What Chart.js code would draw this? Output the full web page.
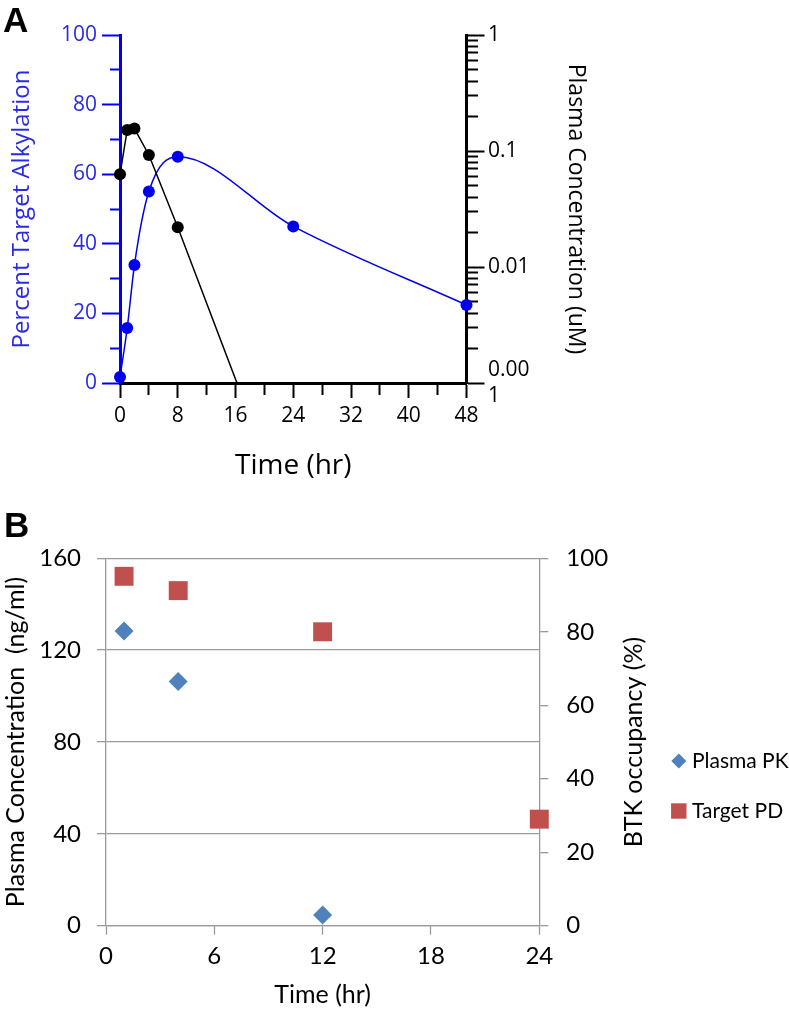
<!DOCTYPE html>
<html><head><meta charset="utf-8">
<script src="https://cdn.jsdelivr.net/npm/chart.js@4/dist/chart.umd.min.js"></script>
<style>
html,body{margin:0;padding:0;background:#fff;}
#wrap{position:relative;width:789px;height:1010px;overflow:hidden;}
canvas{position:absolute;left:0;}
#cA{top:0;} #cB{top:500px;}
</style></head><body>
<div id="wrap"><canvas id="cA" width="789" height="490"></canvas><canvas id="cB" width="789" height="510"></canvas></div>
<script>
// ---------- Panel A data ----------
const alkTimes = [0, 1, 2, 4, 8, 24, 48];
const alkPercent = [1.7, 15.8, 33.9, 55.0, 65.0, 45.0, 22.4];
const concTimes = [0, 1, 2, 4, 8, 24];
const concUM = [0.063, 0.152, 0.156, 0.0924, 0.0220, 0.000053];
const aLeftLabelled = [0, 20, 40, 60, 80, 100];
const aTimeLabelled = [0, 8, 16, 24, 32, 40, 48];
const aRightTickValues = [1, 0.1, 0.01, 0.001];
const aRightTickLabels = ['1', '0.1', '0.01', ['0.00', '1']];

// ---------- Panel B data ----------
const pkTimes = [1, 4, 12];
const pkConc = [128.3, 106.3, 4.7];
const pdTimes = [1, 4, 12, 24];
const pdOccupancy = [95.1, 91.2, 80.0, 29.0];

const BLUE = '#0000ee', BLUE_TXT = '#2a2ae6', GRAY = '#9a9a9a';
const FA = 'Open Sans', FB = 'Lato';
const relEq = (a, b) => Math.abs(a / b - 1) < 1e-6;

const panelLetter = (letter, x, y) => ({
  id: 'letter' + letter,
  afterDraw(chart) {
    const c = chart.ctx; c.save();
    c.font = 'bold 35px "Liberation Sans", Arial, sans-serif';
    c.fillStyle = '#000'; c.textBaseline = 'alphabetic'; c.textAlign = 'left';
    c.fillText(letter, x, y); c.restore();
  }
});

// ---------- Chart A ----------
new Chart(document.getElementById('cA'), {
  type: 'line',
  data: {
    datasets: [
      {
        label: 'Percent Target Alkylation',
        data: alkTimes.map((t, i) => ({x: t, y: alkPercent[i]})),
        yAxisID: 'y', borderColor: BLUE, backgroundColor: BLUE,
        pointBackgroundColor: BLUE, pointBorderWidth: 0, pointRadius: 6,
        borderWidth: 1.5, cubicInterpolationMode: 'monotone', clip: false, order: 1
      },
      {
        label: 'Plasma Concentration',
        data: concTimes.map((t, i) => ({x: t, y: concUM[i]})),
        yAxisID: 'y2', borderColor: '#000', backgroundColor: '#000',
        pointBackgroundColor: '#000', pointBorderWidth: 0, pointRadius: 6,
        borderWidth: 1.5, tension: 0, clip: {left: 10, top: 10, right: 10, bottom: 0}, order: 0
      }
    ]
  },
  options: {
    responsive: false, animation: false, devicePixelRatio: 1,
    layout: {padding: {left: 7.6, top: 35, right: 199.4, bottom: 0}},
    plugins: {legend: {display: false}, tooltip: {enabled: false}},
    scales: {
      x: {
        type: 'linear', position: 'bottom', min: 0, max: 48,
        ticks: {stepSize: 4, autoSkip: false, maxRotation: 0, padding: 5, color: '#000',
          font: {family: FA, size: 21},
          callback: v => aTimeLabelled.includes(v) ? String(v) : ''},
        grid: {drawOnChartArea: false, drawTicks: true, tickLength: 15, color: '#000', tickWidth: 2,
          tickBorderDash: c => (c.tick && !aTimeLabelled.includes(c.tick.value)) ? [10, 100] : []},
        border: {display: true, color: '#000', width: 3},
        title: {display: true, text: 'Time (hr)', color: '#000', font: {family: FA, size: 28}, padding: {top: 0, bottom: 7}},
        afterFit: s => { s.height = 107; }
      },
      y: {
        type: 'linear', position: 'left', min: 0, max: 100,
        ticks: {stepSize: 10, autoSkip: false, padding: 5, color: BLUE_TXT,
          font: {family: FA, size: 21},
          callback: v => aLeftLabelled.includes(v) ? String(v) : ''},
        grid: {drawOnChartArea: false, tickLength: 18, color: BLUE, tickWidth: 2,
          tickBorderDash: c => (c.tick && !aLeftLabelled.includes(c.tick.value)) ? [0, 8, 10, 100] : []},
        border: {display: true, color: BLUE, width: 3},
        title: {display: true, text: 'Percent Target Alkylation', color: BLUE_TXT, font: {family: FA, size: 24}, padding: 0},
        afterFit: s => { s.width = 112.4; }
      },
      y2: {
        type: 'logarithmic', position: 'right', min: 0.001, max: 1,
        afterBuildTicks: s => {
          s.ticks = s.ticks.filter(t => {
            const e = Math.floor(Math.log10(t.value) + 1e-9);
            const m = t.value / Math.pow(10, e);
            return Math.abs(m - Math.round(m)) < 1e-6;
          });
        },
        ticks: {autoSkip: false, padding: 3.5, color: '#000', font: {family: FA, size: 21},
          callback: v => {
            const i = aRightTickValues.findIndex(t => relEq(v, t));
            return i >= 0 ? aRightTickLabels[i] : '';
          }},
        grid: {drawOnChartArea: false, tickLength: 18, color: '#000', tickWidth: 2,
          tickBorderDash: c => (c.tick && !aRightTickValues.some(t => relEq(c.tick.value, t))) ? [10, 100] : []},
        border: {display: true, color: '#000', width: 3},
        title: {display: true, text: 'Plasma Concentration (uM)', color: '#000', font: {family: FA, size: 23}, padding: 0},
        afterFit: s => { s.width = 123.1; }
      }
    }
  },
  plugins: [panelLetter('A', 3, 32)]
});

// ---------- Chart B ----------
const bExtras = {
  id: 'bExtras',
  afterDraw(chart) {
    const c = chart.ctx, ca = chart.chartArea, s = chart.scales.yR;
    c.save();
    // right axis title (reads bottom to top)
    c.translate(s.right - 15, (ca.top + ca.bottom) / 2);
    c.rotate(-Math.PI / 2);
    c.font = '25px ' + FB; c.fillStyle = '#000';
    c.textAlign = 'center'; c.textBaseline = 'middle';
    c.fillText('BTK occupancy (%)', 0, 0);
    c.restore();
    // legend
    const lx = s.right + 29.5, ly0 = ca.top + 202.7, gap = 50;
    chart.data.datasets.forEach((ds, i) => {
      const y = ly0 + i * gap;
      c.save();
      c.fillStyle = ds.backgroundColor;
      c.beginPath();
      if (ds.pointStyle === 'rectRot') {
        const r = 7.5;
        c.moveTo(lx - r, y); c.lineTo(lx, y - r); c.lineTo(lx + r, y); c.lineTo(lx, y + r);
      } else {
        const h = 7.7;
        c.rect(lx - h, y - h, 2 * h, 2 * h);
      }
      c.closePath(); c.fill();
      c.font = '21px ' + FB; c.fillStyle = '#000';
      c.textAlign = 'left'; c.textBaseline = 'middle';
      c.fillText(ds.label, lx + 13.2, y);
      c.restore();
    });
  }
};

new Chart(document.getElementById('cB'), {
  type: 'scatter',
  data: {
    datasets: [
      {label: 'Plasma PK', data: pkTimes.map((t, i) => ({x: t, y: pkConc[i]})), yAxisID: 'yL',
       pointStyle: 'rectRot', pointRadius: 9.5, backgroundColor: '#4f81bd', pointBackgroundColor: '#4f81bd',
       pointBorderWidth: 0, clip: false},
      {label: 'Target PD', data: pdTimes.map((t, i) => ({x: t, y: pdOccupancy[i]})), yAxisID: 'yR',
       pointStyle: 'rect', pointRadius: 13.4, backgroundColor: '#c0504d', pointBackgroundColor: '#c0504d',
       pointBorderWidth: 0, clip: false}
    ]
  },
  options: {
    responsive: false, animation: false, devicePixelRatio: 1,
    layout: {padding: {left: 1, top: 58.3, right: 139.7, bottom: 0}},
    plugins: {legend: {display: false}, tooltip: {enabled: false}},
    scales: {
      x: {
        type: 'linear', position: 'bottom', min: 0, max: 24,
        ticks: {stepSize: 6, autoSkip: false, maxRotation: 0, padding: 7, color: '#000', font: {family: FB, size: 24}},
        grid: {drawOnChartArea: false, tickLength: 9, color: GRAY, tickWidth: 1.3},
        border: {display: true, color: GRAY, width: 1.3},
        title: {display: true, text: 'Time (hr)', color: '#000', font: {family: FB, size: 25}, padding: 0},
        afterFit: s => { s.height = 84.3; }
      },
      yL: {
        type: 'linear', position: 'left', min: 0, max: 160,
        ticks: {stepSize: 40, autoSkip: false, padding: 16, color: '#000', font: {family: FB, size: 24}},
        grid: {color: GRAY, lineWidth: 1.3, tickLength: 9},
        border: {display: true, color: GRAY, width: 1.3},
        title: {display: true, text: 'Plasma Concentration  (ng/ml)', color: '#000', font: {family: FB, size: 25}, padding: 0},
        afterFit: s => { s.width = 105; }
      },
      yR: {
        type: 'linear', position: 'right', min: 0, max: 100,
        ticks: {stepSize: 20, autoSkip: false, padding: 18, color: '#000', font: {family: FB, size: 24}},
        grid: {drawOnChartArea: false, color: GRAY, lineWidth: 1.3, tickLength: 9},
        border: {display: true, color: GRAY, width: 1.3},
        afterFit: s => { s.width = 110; }
      }
    }
  },
  plugins: [panelLetter('B', 4, 36.7), bExtras]
});
</script>
</body></html>
